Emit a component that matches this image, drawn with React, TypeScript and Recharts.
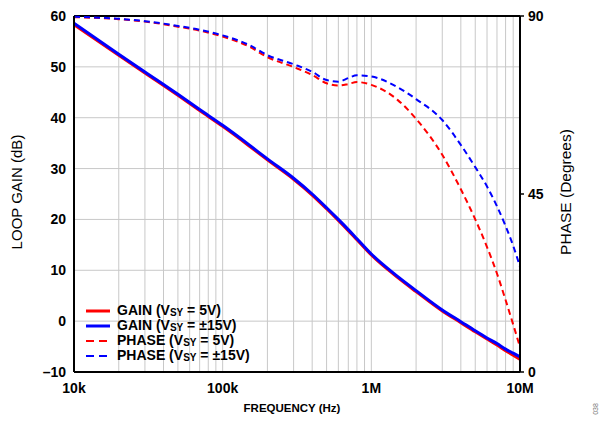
import React from 'react';
import {
    LineChart,
    Line,
    XAxis,
    YAxis,
    CartesianGrid,
    ReferenceLine
} from 'recharts';

// frequencies (Hz) the curves were read at
const freqs = [
    1e4, 2e4, 3e4, 5e4, 7e4, 1e5, 1.5e5, 2e5, 3e5, 4e5, 5e5, 6e5, 7e5, 8e5,
    1e6, 1.5e6, 2e6, 3e6, 4e6, 5e6, 6e6, 7e6, 8e6, 9e6, 1e7
];
const gain5V = [
    58.3, 52.3, 48.8, 44.4, 41.4, 38.3, 34.5, 31.7, 27.9, 24.8, 22.1, 19.8, 17.8, 16.0,
    13.0, 8.6, 5.8, 2.0, -0.3, -2.1, -3.5, -4.7, -5.8, -6.7, -7.5
];
const gain15V = [
    58.6, 52.5, 49.0, 44.6, 41.6, 38.5, 34.7, 31.9, 28.1, 25.0, 22.3, 20.0, 18.0, 16.2,
    13.2, 8.8, 6.0, 2.2, -0.1, -1.9, -3.3, -4.4, -5.5, -6.3, -7.0
];
const phase5V = [
    89.7, 89.2, 88.6, 87.3, 86.3, 84.8, 82.3, 79.6, 77.1, 75.1, 73.0, 72.4, 72.8, 73.3,
    72.6, 68.8, 64.0, 54.9, 46.2, 38.6, 31.6, 24.9, 18.2, 12.0, 6.3
];
const phase15V = [
    89.8, 89.3, 88.7, 87.5, 86.5, 85.1, 82.7, 80.1, 77.8, 75.9, 73.8, 73.4, 74.3, 75.0,
    74.7, 72.0, 69.0, 63.7, 57.4, 51.8, 46.9, 41.9, 36.9, 31.9, 26.6
];

const freqTicks = [1e4, 1e5, 1e6, 1e7];
const gainTicks = [-10, 0, 10, 20, 30, 40, 50, 60];
const phaseTicks = [0, 45, 90];
// 1..9 within every decade for the log grid
const gridFreqs = [1e4, 1e5, 1e6].flatMap(d => [1, 2, 3, 4, 5, 6, 7, 8, 9].map(m => m * d)).concat([1e7]);

const legendItems = [
    { name: 'GAIN', supply: '5V', color: '#ff0000', dashed: false },
    { name: 'GAIN', supply: '±15V', color: '#0000ff', dashed: false },
    { name: 'PHASE', supply: '5V', color: '#ff0000', dashed: true },
    { name: 'PHASE', supply: '±15V', color: '#0000ff', dashed: true }
];

const data = freqs.map((f, i) => ({
    f,
    gain5: gain5V[i],
    gain15: gain15V[i],
    phase5: phase5V[i],
    phase15: phase15V[i]
}));

const FONT = '"Liberation Sans", Arial, sans-serif';
const tickStyle = { fill: '#000', fontSize: 14, fontWeight: 'bold', fontFamily: FONT };

const fmtFreq = (v: number) => {
    if (v >= 1e6) return `${v / 1e6}M`;
    return `${v / 1e3}k`;
};

const LegendBox = () => (
    <div style={{ position: 'absolute', left: 86, top: 303, fontFamily: FONT, fontWeight: 'bold', fontSize: 14, color: '#000' }}>
        {legendItems.map((it, i) => (
            <div key={i} style={{ display: 'flex', alignItems: 'center', height: 15, lineHeight: '15px' }}>
                <svg width={24} height={6} style={{ marginRight: 7 }}>
                    <line
                        x1={0}
                        y1={3}
                        x2={24}
                        y2={3}
                        stroke={it.color}
                        strokeWidth={it.dashed ? 2 : 3}
                        strokeDasharray={it.dashed ? '8 5' : undefined}
                    />
                </svg>
                <span style={{ whiteSpace: 'nowrap' }}>
                    {it.name} (V<span style={{ fontSize: 10, lineHeight: '10px', position: 'relative', top: 1 }}>SY</span> = {it.supply})
                </span>
            </div>
        ))}
    </div>
);

export default function App() {
    return (
        <div style={{ position: 'absolute', left: 0, top: 0, width: 599, height: 421, background: '#fff' }}>
            <LineChart width={599} height={421} data={data} margin={{ top: 16, right: 39, bottom: 19, left: 34 }}>
                <CartesianGrid yAxisId="gain" vertical={false} stroke="#c8c8c8" strokeWidth={1} />
                {gridFreqs.map(g => (
                    <ReferenceLine key={g} x={g} yAxisId="gain" stroke="#c8c8c8" strokeWidth={1} />
                ))}
                <ReferenceLine y={60} yAxisId="gain" stroke="#000" strokeWidth={2} />
                <XAxis
                    dataKey="f"
                    type="number"
                    scale="log"
                    domain={[1e4, 1e7]}
                    ticks={freqTicks}
                    tickFormatter={fmtFreq}
                    allowDataOverflow
                    height={30}
                    tickLine={false}
                    tickMargin={5}
                    axisLine={{ stroke: '#000', strokeWidth: 2 }}
                    tick={tickStyle}
                />
                <YAxis
                    yAxisId="gain"
                    domain={[-10, 60]}
                    ticks={gainTicks}
                    width={40}
                    tickLine={false}
                    tickFormatter={(v: number) => (v < 0 ? `–${Math.abs(v)}` : `${v}`)}
                    axisLine={{ stroke: '#000', strokeWidth: 2 }}
                    tick={tickStyle}
                />
                <YAxis
                    yAxisId="phase"
                    orientation="right"
                    domain={[0, 90]}
                    ticks={phaseTicks}
                    width={40}
                    tickSize={4}
                    tickMargin={4}
                    tickLine={{ stroke: '#000', strokeWidth: 1.5 }}
                    axisLine={{ stroke: '#000', strokeWidth: 2 }}
                    tick={tickStyle}
                />
                <Line yAxisId="phase" type="monotone" dataKey="phase5" stroke="#ff0000" strokeWidth={2} strokeDasharray="6 4" dot={false} isAnimationActive={false} />
                <Line yAxisId="phase" type="monotone" dataKey="phase15" stroke="#0000ff" strokeWidth={2} strokeDasharray="6 4" dot={false} isAnimationActive={false} />
                <Line yAxisId="gain" type="monotone" dataKey="gain5" stroke="#ff0000" strokeWidth={3} dot={false} isAnimationActive={false} />
                <Line yAxisId="gain" type="monotone" dataKey="gain15" stroke="#0000ff" strokeWidth={3} dot={false} isAnimationActive={false} />
            </LineChart>
            <LegendBox />
            <div style={{ position: 'absolute', left: 16, top: 192, transform: 'translate(-50%, -50%) rotate(-90deg)', whiteSpace: 'nowrap', fontFamily: FONT, fontSize: 15, color: '#000' }}>
                LOOP GAIN (dB)
            </div>
            <div style={{ position: 'absolute', left: 566, top: 192, transform: 'translate(-50%, -50%) rotate(-90deg)', whiteSpace: 'nowrap', fontFamily: FONT, fontSize: 15.5, color: '#000' }}>
                PHASE (Degrees)
            </div>
            <div style={{ position: 'absolute', left: 292, top: 408, transform: 'translate(-50%, -50%)', whiteSpace: 'nowrap', fontFamily: FONT, fontSize: 11.5, fontWeight: 'bold', color: '#000' }}>
                FREQUENCY (Hz)
            </div>
            <div style={{ position: 'absolute', left: 595, top: 409, transform: 'translate(-50%, -50%) rotate(-90deg)', whiteSpace: 'nowrap', fontFamily: FONT, fontSize: 7, color: '#777' }}>
                038
            </div>
        </div>
    );
}
